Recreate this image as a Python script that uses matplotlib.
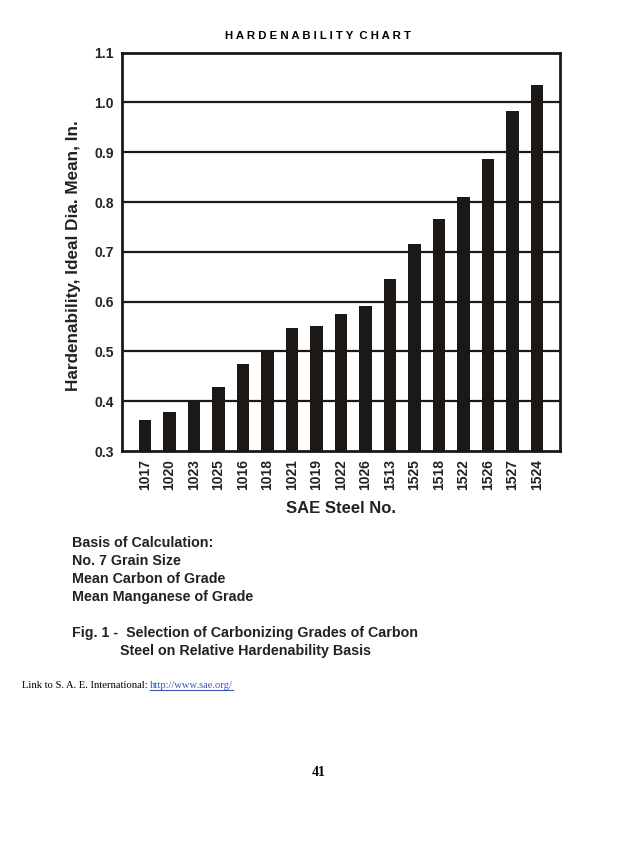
import numpy as np
import matplotlib.pyplot as plt

# Dados do gráfico
aco_sae = ["1017", "1020", "1023", "1025", "1016", "1018", "1021", "1019", "1022",
           "1026", "1513", "1525", "1518", "1522", "1526", "1527", "1524"]
temperabilidade = [0.362, 0.378, 0.401, 0.429, 0.474, 0.502, 0.547, 0.552, 0.575,
                   0.591, 0.646, 0.715, 0.765, 0.811, 0.887, 0.982, 1.036]
y_ticks = [0.3, 0.4, 0.5, 0.6, 0.7, 0.8, 0.9, 1.0, 1.1]

notas = ["Basis of Calculation:", "No. 7 Grain Size",
         "Mean Carbon of Grade", "Mean Manganese of Grade"]

plt.rcParams['font.family'] = ['Liberation Sans', 'DejaVu Sans']
serifa = ['Liberation Serif', 'DejaVu Serif']

fig = plt.figure(figsize=(6.38, 8.5), dpi=100)
ax = fig.add_axes([0.191, 0.4694, 0.687, 0.4686])

x = np.arange(len(aco_sae))
ax.bar(x, temperabilidade, width=0.5, color="#1c1816", zorder=3)

ax.set_ylim(0.3, 1.1)
ax.set_xlim(-0.94, len(aco_sae) - 1 + 0.94)
ax.set_yticks(y_ticks)
ax.set_yticklabels([f"{v:.1f}" for v in y_ticks], fontweight="bold", fontsize=10, color="#222222")
ax.set_xticks(x)
ax.set_xticklabels(aco_sae, rotation=90, fontweight="bold", fontsize=10, color="#222222")
ax.tick_params(axis="both", length=0, pad=6)

# Linhas de grade horizontais
for v in y_ticks[1:-1]:
    ax.axhline(v, color="#1c1816", linewidth=1.6, zorder=1)

for s in ax.spines.values():
    s.set_linewidth(2.0)
    s.set_color("#1c1816")

ax.set_ylabel("Hardenability, Ideal Dia. Mean, In.", fontweight="bold", fontsize=12.3,
              color="#222222")
ax.yaxis.set_label_coords(-0.094, 0.49)
ax.set_xlabel("SAE Steel No.", fontweight="bold", fontsize=12, color="#222222", labelpad=8)

# Título no topo
fig.text(0.499, 1 - 36 / 850, "H A R D E N A B I L I T Y  C H A R T",
         ha="center", va="center", fontsize=8.2, fontweight="bold")

# Bloco de notas
y0 = 543
for i, linha in enumerate(notas):
    fig.text(72 / 638, 1 - (y0 + 18 * i) / 850, linha, ha="left", va="center",
             fontsize=10.3, fontweight="bold", color="#222222")

fig.text(72 / 638, 1 - 633 / 850, "Fig. 1 -  Selection of Carbonizing Grades of Carbon",
         ha="left", va="center", fontsize=10.3, fontweight="bold", color="#222222")
fig.text(120 / 638, 1 - 651 / 850, "Steel on Relative Hardenability Basis",
         ha="left", va="center", fontsize=10.3, fontweight="bold", color="#222222")

# Link e número da página
t1 = fig.text(22 / 638, 1 - 685 / 850, "Link to S. A. E. International: ",
              ha="left", va="center", fontsize=7.6, family=serifa)
fig.canvas.draw()
renderer = fig.canvas.get_renderer()
bb = t1.get_window_extent(renderer=renderer)
t2 = fig.text(bb.x1 / fig.bbox.width, 1 - 685 / 850, "http://www.sae.org/",
              ha="left", va="center", fontsize=7.6, color="#3b55b5", family=serifa)
bb2 = t2.get_window_extent(renderer=renderer)
fig.add_artist(plt.Line2D([bb2.x0 / fig.bbox.width, bb2.x1 / fig.bbox.width],
                          [1 - 690 / 850, 1 - 690 / 850], color="#3b55b5", linewidth=0.8))

fig.text(319 / 638, 1 - 773 / 850, "41", ha="center", va="center", fontsize=10,
         fontweight="bold", family=serifa)

fig.savefig("out.png", dpi=100)
